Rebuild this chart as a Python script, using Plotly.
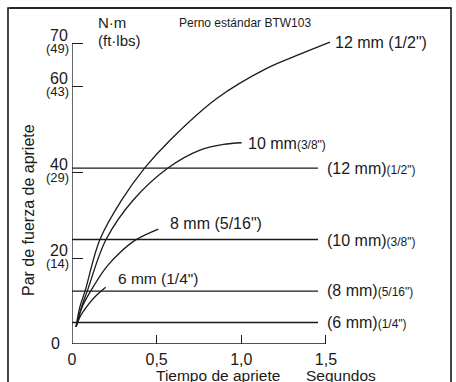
import plotly.graph_objects as go

# ---------------- data ----------------
t12 = [0.024, 0.047, 0.077, 0.165, 0.294, 0.431, 0.579, 0.855, 1.15, 1.347, 1.524]
v12 = [4.0, 8.7, 12.3, 24.3, 33.5, 41.0, 47.4, 57.1, 64.1, 67.4, 70.2]

t10 = [0.024, 0.057, 0.090, 0.201, 0.362, 0.569, 0.756, 0.894, 1.002]
v10 = [4.0, 8.7, 12.3, 24.3, 33.5, 41.0, 45.1, 46.4, 46.8]

t8 = [0.024, 0.061, 0.110, 0.205, 0.284, 0.372, 0.510]
v8 = [4.0, 8.7, 12.3, 18.0, 21.3, 24.1, 26.7]

t6 = [0.024, 0.047, 0.087, 0.136, 0.199]
v6 = [4.0, 6.3, 8.7, 11.0, 13.2]

ref_levels = [40.9, 24.3, 12.3, 5.0]
ref_end = 1.453
ref_labels = ['(12 mm)<span style="font-size:12px">(1/2")</span>',
              '(10 mm)<span style="font-size:12px">(3/8")</span>',
              '(8 mm)<span style="font-size:12px">(5/16")</span>',
              '(6 mm)<span style="font-size:12px">(1/4")</span>']

y_tickvals = [0, 20, 40, 60, 70]
y_ticknum = ['0', '20', '40', '60', '70']
y_tickalt = ['', '(14)', '(29)', '(43)', '(49)']
x_tickvals = [0, 0.5, 1.0, 1.5]
x_ticktext = ['0', '0,5', '1,0', '1,5']

# ---------------- layout geometry (pixels) ----------------
W, H = 456, 382
X0, X1 = 72, 334        # plot area left / right
Y0, Y1 = 344, 34        # plot area bottom / top
XPX, YPX = 169.3, 4.3   # pixels per data unit
xmax = (X1 - X0) / XPX
ymax = (Y0 - Y1) / YPX
FRAME_L, FRAME_R, FRAME_T, FRAME_B = 8, 451, 8, 395


def pxx(x):
    return x / W


def pxy(y):
    return 1 - y / H


def ypix(v):
    return Y0 - v * YPX


FONT = "Liberation Sans, Arial, sans-serif"
INK = "#1a1a1a"

fig = go.Figure()

line_style = dict(color=INK, width=1.3)
for tt, vv in [(t12, v12), (t10, v10), (t8, v8), (t6, v6)]:
    fig.add_trace(go.Scatter(x=tt, y=vv, mode="lines",
                             line=dict(shape="spline", smoothing=1.0, **line_style),
                             hoverinfo="skip", showlegend=False, cliponaxis=False))

for lvl in ref_levels:
    fig.add_trace(go.Scatter(x=[0, ref_end], y=[lvl, lvl], mode="lines",
                             line=line_style, hoverinfo="skip", showlegend=False))

# axis lines (y from 0 to top tick, x from 0 to last tick)
fig.add_trace(go.Scatter(x=[0, 0], y=[0, max(y_tickvals)], mode="lines",
                         line=dict(color=INK, width=1.3), hoverinfo="skip",
                         showlegend=False, cliponaxis=False))
fig.add_trace(go.Scatter(x=[0, max(x_tickvals)], y=[0, 0], mode="lines",
                         line=dict(color=INK, width=1.3), hoverinfo="skip",
                         showlegend=False, cliponaxis=False))

# outer frame, drawn on a full-page overlay (y measured upward from the bottom edge)
frame_line = dict(color=INK, width=1.6)
fig.add_trace(go.Scatter(x=[FRAME_L, FRAME_L, FRAME_R, FRAME_R],
                         y=[H - FRAME_B, H - FRAME_T, H - FRAME_T, H - FRAME_B],
                         xaxis="x2", yaxis="y2", mode="lines",
                         line=frame_line, hoverinfo="skip",
                         showlegend=False, cliponaxis=False))

ann = []


def add_text(text, x, y, size, xanchor="left", yanchor="middle", angle=0, family=FONT):
    ann.append(dict(text=text, xref="paper", yref="paper", x=pxx(x), y=pxy(y),
                    xanchor=xanchor, yanchor=yanchor, showarrow=False, textangle=angle,
                    font=dict(family=family, size=size, color=INK)))


# top edge of the frame as an arrow-less annotation line
ann.append(dict(text="", xref="paper", yref="paper", x=pxx(FRAME_R), y=pxy(FRAME_T),
                axref="pixel", ayref="pixel", ax=-(FRAME_R - FRAME_L), ay=0,
                showarrow=True, arrowhead=0, arrowwidth=1.6, arrowcolor=INK,
                standoff=0, startstandoff=0))

# y tick labels: number above, ft-lbs value below
for v, num, alt in zip(y_tickvals, y_ticknum, y_tickalt):
    yp = ypix(v)
    if alt:
        add_text(num, 70, yp - 7.5, 16, xanchor="right")
        add_text(alt, 70.5, yp + 5.5, 13, xanchor="right")
    else:
        add_text(num, 62, yp - 1, 16, xanchor="right")

# curve labels
add_text('12 mm (1/2")', 333, 42, 16)
add_text('10 mm<span style="font-size:12px">(3/8")</span>', 246, 143, 16)
add_text('8 mm (5/16")', 168, 224, 16)
add_text('6 mm (1/4")', 116, 278, 15.5)
# reference-line labels
for lab, yy in zip(ref_labels, [168, 240, 290, 322]):
    add_text(lab, 325, yy, 16)

add_text("Perno estándar BTW103", 177, 23, 12)
add_text("N·m", 96, 22, 15)
add_text("(ft·lbs)", 96, 40, 15)
add_text("Par de fuerza de apriete", 28, 210, 16, xanchor="center", angle=-90)
add_text("Tiempo de apriete", 218, 375.5, 15.5, xanchor="center")
add_text("Segundos", 341, 375.5, 15.5, xanchor="center")

fig.update_layout(
    width=W, height=H,
    margin=dict(l=0, r=0, t=0, b=0, pad=0),
    paper_bgcolor="white", plot_bgcolor="rgba(0,0,0,0)",
    font=dict(family=FONT, size=16, color=INK),
    annotations=ann,
    xaxis=dict(domain=[X0 / W, X1 / W], range=[0, xmax], automargin=False,
               showgrid=False, zeroline=False, showline=False,
               tickmode="array", tickvals=x_tickvals, ticktext=x_ticktext,
               ticks="inside", ticklen=9, tickwidth=1.3, tickcolor=INK,
               ticklabelstandoff=4,
               tickfont=dict(family=FONT, size=16, color=INK), fixedrange=True),
    yaxis=dict(domain=[1 - Y0 / H, 1 - Y1 / H], range=[0, ymax], automargin=False,
               showgrid=False, zeroline=False, showline=False,
               tickmode="array", tickvals=y_tickvals, showticklabels=False,
               ticks="inside", ticklen=11, tickwidth=1.3, tickcolor=INK,
               fixedrange=True),
    xaxis2=dict(domain=[0, 1], range=[0, W], autorange=False, visible=False,
                automargin=False, fixedrange=True, anchor="y2"),
    yaxis2=dict(domain=[0, 1], range=[0, H], autorange=False, visible=False,
                automargin=False, fixedrange=True, anchor="x2"),
)

fig.write_html("out.html", config={"displayModeBar": False},
               post_script="document.body.style.margin='0';document.body.style.padding='0';")
